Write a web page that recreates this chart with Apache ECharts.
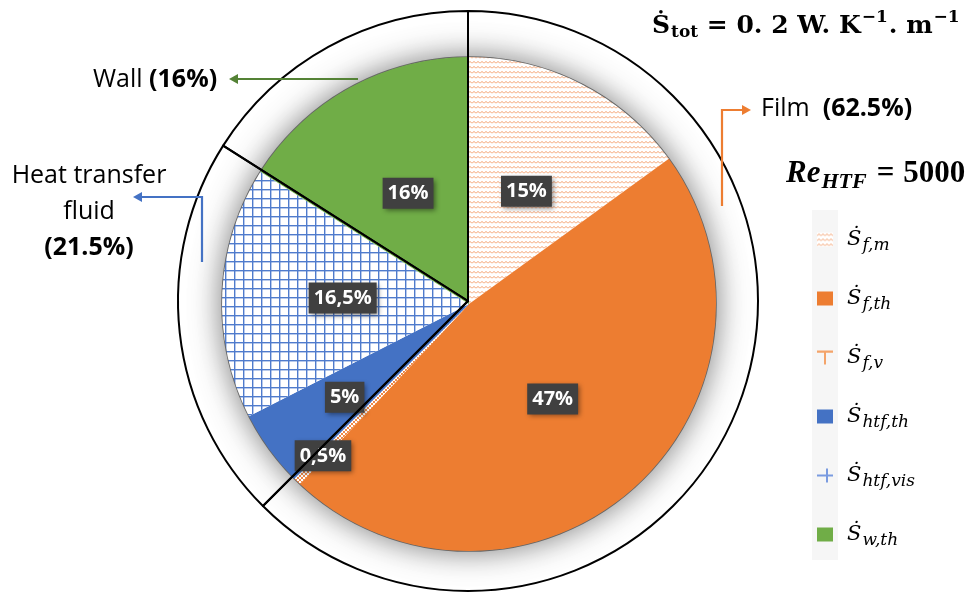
<!DOCTYPE html>
<html>
<head>
<meta charset="utf-8">
<script src="https://cdn.jsdelivr.net/npm/echarts@6/dist/echarts.min.js"></script>
<style>
html,body{margin:0;padding:0;background:#fff;}
#chart{width:979px;height:596px;}
</style>
</head>
<body>
<div id="chart"></div>
<script>
// ---- data ----
const categories = ['f,m', 'f,th', 'f,v', 'htf,th', 'htf,vis', 'w,th'];
const shares = [15, 47, 0.5, 5, 16.5, 16];
const groupNames = ['Film', 'Heat transfer fluid', 'Wall'];
const groupShares = [62.5, 21.5, 16];
const totalText = '0. 2';
const reynolds = '5000';

// ---- styles ----
const ORANGE = '#ed7d31', BLUE = '#4472c4', GREEN = '#70ad47';
const CX = 469, CY = 304, R = 247;
const OCX = 468, OCY = 301, OR = 290;

function makeTile(w, h, draw) {
  const c = document.createElement('canvas');
  c.width = w; c.height = h;
  const ctx = c.getContext('2d');
  ctx.fillStyle = '#fff'; ctx.fillRect(0, 0, w, h);
  draw(ctx);
  return { image: c, repeat: 'repeat' };
}
const wavePattern = makeTile(4, 5, ctx => {
  ctx.strokeStyle = '#f39c68'; ctx.lineWidth = 1;
  ctx.beginPath(); ctx.moveTo(0, 3.4); ctx.lineTo(2, 1.4); ctx.lineTo(4, 3.4); ctx.stroke();
});
const gridPattern = makeTile(9, 9, ctx => {
  ctx.fillStyle = '#4f7bcc';
  ctx.fillRect(0, 0, 1.4, 9); ctx.fillRect(0, 0, 9, 1.4);
});
const diamondPattern = makeTile(4, 4, ctx => {
  ctx.strokeStyle = '#f08a4b'; ctx.lineWidth = 1;
  ctx.beginPath(); ctx.moveTo(0, 0); ctx.lineTo(4, 4); ctx.moveTo(4, 0); ctx.lineTo(0, 4); ctx.stroke();
});
const fills = [wavePattern, ORANGE, diamondPattern, BLUE, gridPattern, GREEN];
const legendIcons = [
  null, null,
  { icon: 'path://M0,0H16V2.2H9V14H7V2.2H0Z', itemStyle: { color: '#f4a46a' } },
  null,
  { icon: 'path://M0,6H16V8H0Z M9,0H11V14H9Z', itemStyle: { color: '#7a9be0' } },
  null
];
const labelShift = { 2: [-58, 61], 3: [-22, 19] };

const mathFont = "'DejaVu Serif','Liberation Serif',serif";
const timesFont = "'Liberation Serif','DejaVu Serif',serif";
const sansFont = "'Open Sans','Noto Sans',sans-serif";

const chart = echarts.init(document.getElementById('chart'), null, { renderer: 'canvas' });

function arrow(points, color, tip, dir) {
  const s = 5, l = 9;
  let head;
  if (dir === 'left') head = [[tip[0], tip[1]], [tip[0] + l, tip[1] - s], [tip[0] + l, tip[1] + s]];
  else head = [[tip[0], tip[1]], [tip[0] - l, tip[1] - s], [tip[0] - l, tip[1] + s]];
  return [
    { type: 'polyline', z: 5, shape: { points }, style: { stroke: color, lineWidth: 2.2, fill: null } },
    { type: 'polygon', z: 5, shape: { points: head }, style: { fill: color } }
  ];
}

const option = {
  backgroundColor: '#fff',
  animation: false,
  legend: {
    orient: 'vertical',
    left: 817, top: 225,
    padding: 0,
    itemWidth: 16, itemHeight: 14,
    itemGap: 30,
    selectedMode: false,
    data: categories.map((c, i) => Object.assign({ name: c }, legendIcons[i] || { icon: 'rect' })),
    formatter: name => '{s|\u1E60}{sub|' + name + '}',
    textStyle: {
      rich: {
        s: { fontFamily: mathFont, fontStyle: 'italic', fontSize: 21, lineHeight: 30, color: '#000', padding: [0, 0, 0, 9] },
        sub: { fontFamily: mathFont, fontStyle: 'italic', fontSize: 17, lineHeight: 30, color: '#000', padding: [12, 0, 0, 1] }
      }
    }
  },
  graphic: {
    elements: [
      { type: 'rect', z: 0, shape: { x: 812, y: 210, width: 26, height: 350 }, style: { fill: '#f6f6f6' } },
      { type: 'circle', z: 1, shape: { cx: CX, cy: CY, r: R }, style: { fill: '#fff', stroke: '#666', lineWidth: 1.6, shadowBlur: 30, shadowColor: 'rgba(0,0,0,0.5)' } },
      ...arrow([[358, 79], [236, 79]], '#548235', [229, 79], 'left'),
      ...arrow([[202, 262], [202, 197], [140, 197]], BLUE, [133, 197], 'left'),
      ...arrow([[722, 206], [722, 110], [744, 110]], ORANGE, [751, 110], 'right'),
      {
        type: 'text', z: 6, x: 93, y: 80,
        style: {
          text: '{r|Wall }{b|(' + groupShares[2] + '%)}',
          verticalAlign: 'middle', align: 'left',
          rich: {
            r: { fontFamily: sansFont, fontSize: 25, color: '#000' },
            b: { fontFamily: sansFont, fontSize: 25, fontWeight: 'bold', color: '#000' }
          }
        }
      },
      {
        type: 'text', z: 6, x: 89, y: 212,
        style: {
          text: '{r|Heat transfer}\n{r|fluid}\n{b|(' + groupShares[1] + '%)}',
          verticalAlign: 'middle', align: 'center',
          rich: {
            r: { fontFamily: sansFont, fontSize: 25, color: '#000', lineHeight: 36, align: 'center' },
            b: { fontFamily: sansFont, fontSize: 25, fontWeight: 'bold', color: '#000', lineHeight: 36, align: 'center' }
          }
        }
      },
      {
        type: 'text', z: 6, x: 761, y: 109,
        style: {
          text: '{r|Film  }{b|(' + groupShares[0] + '%)}',
          verticalAlign: 'middle', align: 'left',
          rich: {
            r: { fontFamily: sansFont, fontSize: 25, color: '#000' },
            b: { fontFamily: sansFont, fontSize: 25, fontWeight: 'bold', color: '#000' }
          }
        }
      },
      {
        type: 'text', z: 6, x: 652, y: 26,
        style: {
          text: '{m|\u1E60}{sub|tot}{m| = ' + totalText + ' W. K}{sup|\u22121}{m|. m}{sup|\u22121}',
          verticalAlign: 'middle', align: 'left',
          rich: {
            m: { fontFamily: mathFont, fontWeight: 'bold', fontSize: 25, color: '#000', lineHeight: 36 },
            sub: { fontFamily: mathFont, fontWeight: 'bold', fontSize: 17, color: '#000', lineHeight: 36, padding: [14, 0, 0, 1] },
            sup: { fontFamily: mathFont, fontWeight: 'bold', fontSize: 17, color: '#000', lineHeight: 36, padding: [0, 1, 16, 1] }
          }
        }
      },
      {
        type: 'text', z: 6, x: 786, y: 174,
        style: {
          text: '{i|Re}{sub|HTF}{eq|=}{m|' + reynolds + '}',
          verticalAlign: 'middle', align: 'left',
          rich: {
            i: { fontFamily: timesFont, fontWeight: 'bold', fontStyle: 'italic', fontSize: 31, color: '#000', lineHeight: 40 },
            sub: { fontFamily: timesFont, fontWeight: 'bold', fontStyle: 'italic', fontSize: 22, color: '#000', lineHeight: 40, padding: [16, 0, 0, 1] },
            eq: { fontFamily: timesFont, fontWeight: 'bold', fontSize: 31, color: '#000', lineHeight: 40, padding: [0, 9, 0, 10] },
            m: { fontFamily: timesFont, fontWeight: 'bold', fontSize: 31, color: '#000', lineHeight: 40 }
          }
        }
      }
    ]
  },
  series: [
    {
      type: 'pie',
      z: 2,
      center: [CX, CY],
      radius: R,
      startAngle: 90,
      clockwise: true,
      silent: true,
      avoidLabelOverlap: false,
      emphasis: { disabled: true },
      data: categories.map((c, i) => ({ name: c, value: shares[i], itemStyle: { color: fills[i] } })),
      label: {
        show: true,
        position: 'inside',
        formatter: p => String(p.value).replace('.', ',') + '%',
        color: '#fff',
        fontFamily: sansFont,
        fontWeight: 'bold',
        fontSize: 20,
        backgroundColor: '#404040',
        padding: [7, 5, 4, 5],
        shadowBlur: 5,
        shadowColor: 'rgba(0,0,0,0.45)',
        shadowOffsetX: 2,
        shadowOffsetY: 2
      },
      labelLine: { show: false },
      labelLayout: p => {
        const s = labelShift[p.dataIndex];
        return s ? { dx: s[0], dy: s[1] } : {};
      }
    },
    {
      type: 'pie',
      z: 3,
      center: [OCX, OCY],
      radius: OR,
      startAngle: 90,
      clockwise: true,
      silent: true,
      emphasis: { disabled: true },
      data: groupNames.map((n, i) => ({ name: n, value: groupShares[i] })),
      itemStyle: { color: 'rgba(0,0,0,0)', borderColor: '#000', borderWidth: 2 },
      label: { show: false },
      labelLine: { show: false }
    }
  ]
};
chart.setOption(option);
</script>
</body>
</html>
